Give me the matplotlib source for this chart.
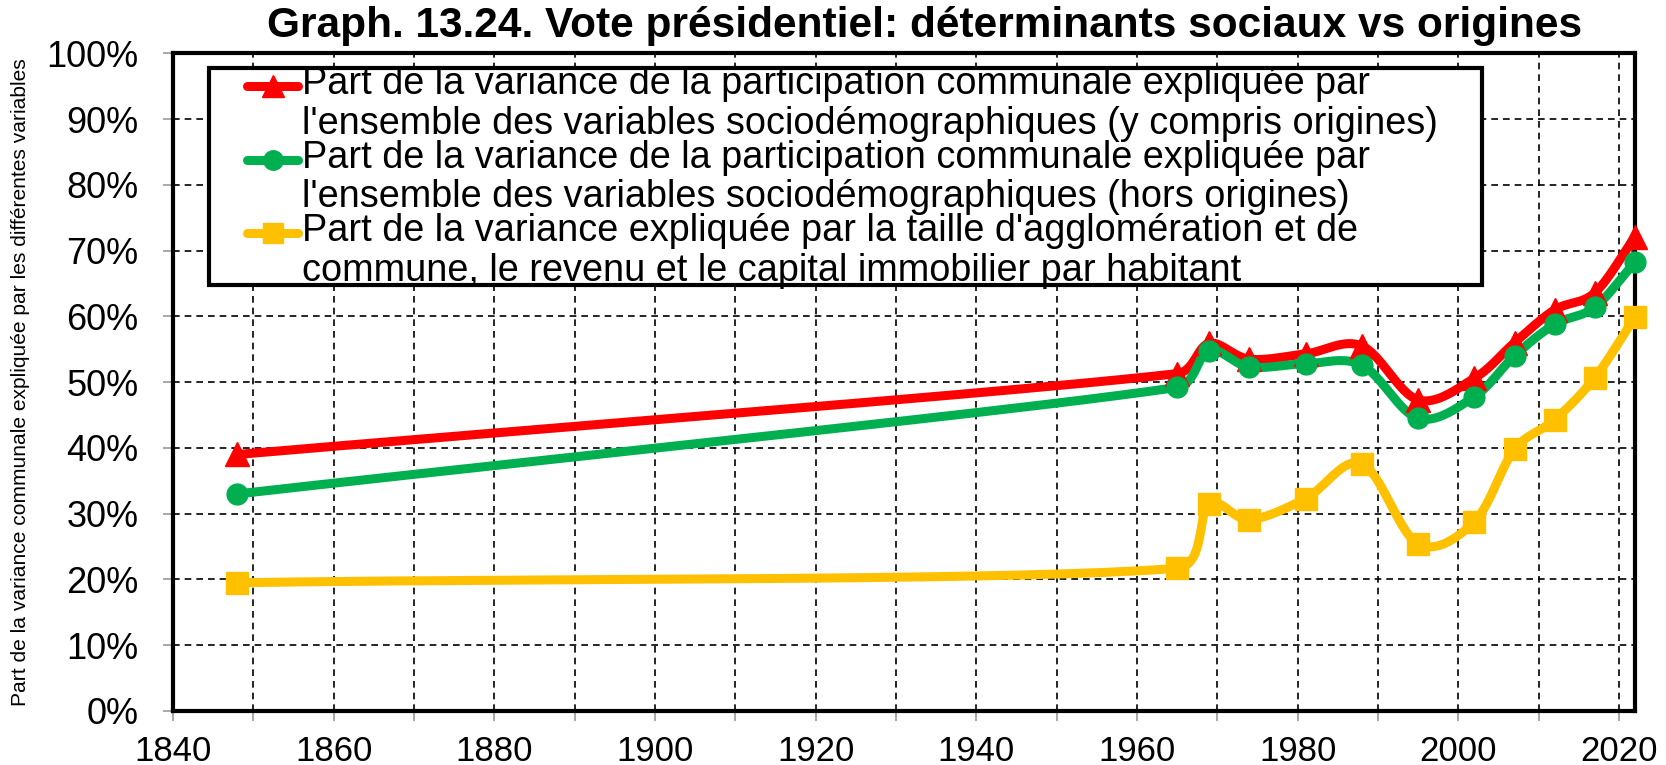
import numpy as np
import matplotlib
matplotlib.use("Agg")
import matplotlib.pyplot as plt
import matplotlib.transforms as mtransforms
from matplotlib.patches import Rectangle
from matplotlib.legend_handler import HandlerLine2D
from matplotlib.ticker import MultipleLocator, PercentFormatter

plt.rcParams["font.family"] = ["Liberation Sans", "DejaVu Sans"]

years = [1848, 1965, 1969, 1974, 1981, 1988, 1995, 2002, 2007, 2012, 2017, 2022]
part_totale = [39.0, 51.3, 55.9, 53.5, 54.3, 55.5, 47.3, 50.6, 56.0, 61.0, 63.6, 72.1]
part_hors_origines = [33.0, 49.2, 54.8, 52.3, 52.8, 52.6, 44.5, 47.8, 54.0, 58.8, 61.4, 68.3]
part_taille_revenu = [19.5, 21.7, 31.4, 29.1, 32.3, 37.6, 25.4, 28.8, 39.8, 44.3, 50.7, 59.9]

labels = [
    "Part de la variance de la participation communale expliquée par\n"
    "l'ensemble des variables sociodémographiques (y compris origines)",
    "Part de la variance de la participation communale expliquée par\n"
    "l'ensemble des variables sociodémographiques (hors origines)",
    "Part de la variance expliquée par la taille d'agglomération et de\n"
    "commune, le revenu et le capital immobilier par habitant",
]
colors = ["#FF0000", "#00B050", "#FFC000"]
markers = ["^", "o", "s"]
msizes = [17, 15, 16]


def smooth(xs, ys, sx=8.03, sy=6.58, n=40):
    # excel-like smoothed line: bezier through the points, built in pixel-ish units
    p = np.column_stack([np.asarray(xs, float) * sx, np.asarray(ys, float) * sy])
    out = []
    for i in range(len(p) - 1):
        a, b = p[i], p[i + 1]
        seg = np.linalg.norm(b - a)
        t0 = (b - p[i - 1]) / 6 if i > 0 else (b - a) / 3
        t1 = (p[i + 2] - a) / 6 if i + 2 < len(p) else (b - a) / 3
        for t in (t0, t1):
            ln = np.linalg.norm(t)
            if ln > 0.4 * seg:
                t *= 0.4 * seg / ln
        c1, c2 = a + t0, b - t1
        u = np.linspace(0, 1, n)[:, None]
        pts = (1 - u) ** 3 * a + 3 * (1 - u) ** 2 * u * c1 + 3 * (1 - u) * u ** 2 * c2 + u ** 3 * b
        out.append(pts if i == 0 else pts[1:])
    out = np.vstack(out)
    return out[:, 0] / sx, out[:, 1] / sy


class FirstLineHandler(HandlerLine2D):
    # put the legend symbol next to the first line of a two-line label
    def create_artists(self, legend, orig_handle, xdescent, ydescent, width, height, fontsize, trans):
        arts = super().create_artists(legend, orig_handle, xdescent, ydescent,
                                      width, height, fontsize, trans)
        for a in arts:
            a.set_transform(mtransforms.Affine2D().translate(0, 13.5) + trans)
        return arts


fig = plt.figure(figsize=(16.66, 7.65), dpi=100)
ax = fig.add_axes([0.1038, 0.0706, 0.8776, 0.8597])

series = [part_totale, part_hors_origines, part_taille_revenu]
handles = []
for vals, col, mk, ms, lab in zip(series, colors, markers, msizes, labels):
    sxv, syv = smooth(years, vals)
    ax.plot(sxv, syv, color=col, lw=6.5, solid_capstyle="round", clip_on=False, zorder=3)
    ax.plot(years, vals, linestyle="none", marker=mk, ms=ms, color=col, clip_on=False, zorder=4)
    h, = ax.plot([], [], color=col, lw=6.5, marker=mk, ms=ms - 1, solid_capstyle="round", label=lab)
    handles.append(h)

ax.set_xlim(1840, 2022)
ax.set_ylim(0, 100)
ax.xaxis.set_major_locator(MultipleLocator(20))
ax.xaxis.set_minor_locator(MultipleLocator(10))
ax.yaxis.set_major_locator(MultipleLocator(10))
ax.yaxis.set_major_formatter(PercentFormatter(decimals=0))

ax.grid(True, which="both", color="black", linestyle=(0, (4, 3)), linewidth=1.2)
ax.set_axisbelow(True)
ax.tick_params(axis="both", which="both", direction="out", length=7, width=1.2, color="#999999")
ax.tick_params(axis="x", which="major", labelsize=25, pad=10)
ax.tick_params(axis="y", labelsize=26, pad=18)
for spine in ax.spines.values():
    spine.set_linewidth(3)
    spine.set_color("black")

# legend frame drawn separately so the inner padding can match
ax.add_patch(Rectangle((0.0246, 0.6477), 0.8708, 0.33, transform=ax.transAxes,
                       facecolor="white", edgecolor="black", linewidth=3,
                       zorder=5, clip_on=False))
leg = ax.legend(handles=handles, loc="upper left", bbox_to_anchor=(0.0506, 0.98),
                fontsize=27.3, frameon=False, handlelength=1.36,
                handletextpad=0.08, borderpad=0, labelspacing=-0.05, borderaxespad=0,
                handler_map={h: FirstLineHandler() for h in handles})
for t in leg.get_texts():
    t.set_linespacing(1.12)
leg.set_zorder(6)

fig.text(0.555, 0.966, "Graph. 13.24. Vote présidentiel: déterminants sociaux vs origines",
         ha="center", va="center", fontsize=30.5, fontweight="bold")
fig.text(0.0126, 0.5, "Part de la variance communale expliquée par les différentes variables",
         rotation=90, ha="center", va="center", fontsize=15.1)

fig.savefig("out.png", dpi=100)
